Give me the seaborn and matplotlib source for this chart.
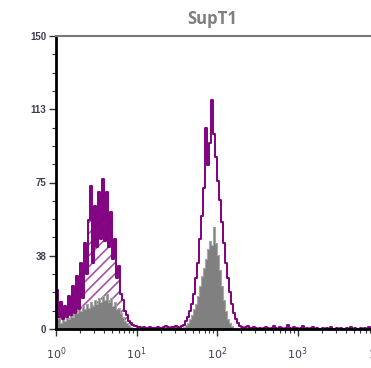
import numpy as np
import pandas as pd
import matplotlib
matplotlib.use("Agg")
import matplotlib.pyplot as plt
import seaborn as sns
from matplotlib.ticker import FixedLocator, LogLocator, NullFormatter, FixedFormatter

sns.set_style("ticks")
plt.rcParams['font.family'] = ['Liberation Sans', 'DejaVu Sans']
plt.rcParams['hatch.linewidth'] = 1.2

PURPLE = "#800080"
HATCH = "#a552a5"
GRAY = "#808080"

# ---- data (counts per log10 bin) ----
title = "SupT1"
low_range = (0.0, 1.5)      # log10 range of first segment
high_range = (1.5, 4.0)     # log10 range of second segment

purple_low = [20, 6, 14, 5, 12, 6, 17, 7, 22, 8,
              27, 10, 34, 16, 44, 28, 56, 73, 34, 63,
              42, 70, 46, 77, 45, 70, 42, 60, 36, 46,
              26, 32, 18, 15, 9, 7, 4, 3, 2, 1.5,
              1, 1, 0.5, 1, 0.5, 0.5, 1, 0.5, 0.5, 0.5,
              1, 0.5, 0.5, 1, 1.5, 1, 0.5, 1, 1, 1.5]
gray_low = [5, 8, 3, 6, 4, 7, 5, 8, 6, 9,
            8, 11, 9, 12, 10, 13, 11, 14, 12, 15,
            13, 16, 14, 17, 15, 18, 14, 16, 12, 14,
            10, 11, 8, 6, 4, 3, 2, 1, 0.5, 0.5,
            0.5, 0, 0.5, 0, 0, 0.5, 0, 0, 0.5, 0,
            0, 0.5, 0, 0, 0.5, 0, 0.5, 0.5, 1, 1]
purple_high = [1, 0.5, 1.5, 2, 4, 6, 9, 13, 18, 26,
               34, 46, 58, 72, 103, 84, 95, 117, 100, 88,
               76, 66, 55, 44, 34, 26, 19, 13, 8, 5,
               3, 1.5, 1, 0.5,
               1, 1.5, 0.5, 0.5, 1, 0.5, 0, 0.5, 0, 0.5,
               1, 0.5, 0, 0.5, 1.5, 0.5, 0, 1, 0.5, 0,
               0.5, 2, 0.5, 0, 1, 0.5, 0, 0.5, 1.5, 0,
               0.5, 0, 0.5, 1, 0, 0.5, 0, 0, 0.5, 0,
               0.5, 0, 1, 0, 0, 0.5, 0, 0.5, 0, 0,
               0.5, 0, 1, 0, 0.5, 0, 0, 0.5, 0, 0.5,
               0, 1, 0.5, 0, 0.5, 1]
gray_high = [0, 0, 0.5, 1, 2, 3, 5, 7, 10, 13,
             17, 22, 27, 31, 36, 41, 45, 43, 52, 44,
             38, 30, 22, 15, 9, 5, 3, 1.5, 0.5] + [0] * 71

y_ticks = [0, 37.5, 75, 112.5, 150]
y_ticklabels = ["0", "38", "75", "113", "150"]
x_ticks = [1, 10, 100, 1000, 10000]
x_ticklabels = [r"$10^{0}$", r"$10^{1}$", r"$10^{2}$", r"$10^{3}$", r"$10^{4}$"]


def seg(vals, rng):
    edges = np.linspace(rng[0], rng[1], len(vals) + 1)
    centers = 10 ** ((edges[:-1] + edges[1:]) / 2)
    df = pd.DataFrame({"x": centers, "w": np.asarray(vals, float)})
    return df, edges.tolist()


fig = plt.figure(figsize=(3.71, 3.68), dpi=100)
ax = fig.add_axes([56 / 371, 39 / 368, (378 - 56) / 371, (329 - 36) / 368])

df_pl, el = seg(purple_low, low_range)
df_gl, _ = seg(gray_low, low_range)
df_ph, eh = seg(purple_high, high_range)
df_gh, _ = seg(gray_high, high_range)

# hatched control fill
sns.histplot(data=df_pl, x="x", weights="w", bins=el, log_scale=True, element="step", fill=True,
             facecolor="white", edgecolor=HATCH, hatch="///", linewidth=0, alpha=1, ax=ax)
# gray filled histograms
for df, ee in [(df_gl, el), (df_gh, eh)]:
    sns.histplot(data=df, x="x", weights="w", bins=ee, log_scale=True, element="step", fill=True,
                 color=GRAY, edgecolor="#a6a6a6", linewidth=0.8, alpha=1, ax=ax)
# purple outlines
for df, ee in [(df_pl, el), (df_ph, eh)]:
    sns.histplot(data=df, x="x", weights="w", bins=ee, log_scale=True, element="step", fill=False,
                 color=PURPLE, linewidth=1.4, ax=ax)

ax.set_xscale("log")
ax.set_xlim(1, 10000)
ax.set_ylim(0, 150)
ax.set_xlabel("")
ax.set_ylabel("")

ax.xaxis.set_major_locator(FixedLocator(x_ticks))
ax.xaxis.set_major_formatter(FixedFormatter(x_ticklabels))
ax.xaxis.set_minor_locator(LogLocator(base=10, subs=np.arange(2, 10)))
ax.xaxis.set_minor_formatter(NullFormatter())
ax.yaxis.set_major_locator(FixedLocator(y_ticks))
ax.yaxis.set_major_formatter(FixedFormatter(y_ticklabels))
ax.yaxis.set_minor_locator(FixedLocator(np.arange(0, 150.1, 9.375)))

ax.tick_params(axis="both", which="major", length=5, width=1, color="#333333",
               labelcolor="#3f3f55", direction="out")
ax.tick_params(axis="x", which="major", labelsize=8, pad=7)
ax.tick_params(axis="y", which="major", labelsize=7, pad=2)
ax.tick_params(axis="both", which="minor", length=3, width=0.8, color="#333333", direction="out")
for lab in ax.get_yticklabels():
    lab.set_fontweight("bold")

for s in ["left", "bottom"]:
    ax.spines[s].set_color("black")
    ax.spines[s].set_linewidth(2)
ax.spines["top"].set_visible(True)
ax.spines["top"].set_color("#777777")
ax.spines["top"].set_linewidth(1.5)
ax.spines["right"].set_visible(False)

fig.text(212 / 371, 1 - 19 / 368, title, ha="center", va="center", fontsize=12,
         fontweight="bold", color="#7f7f7f", family=["Open Sans", "DejaVu Sans"])

fig.savefig("out.png", dpi=100)
